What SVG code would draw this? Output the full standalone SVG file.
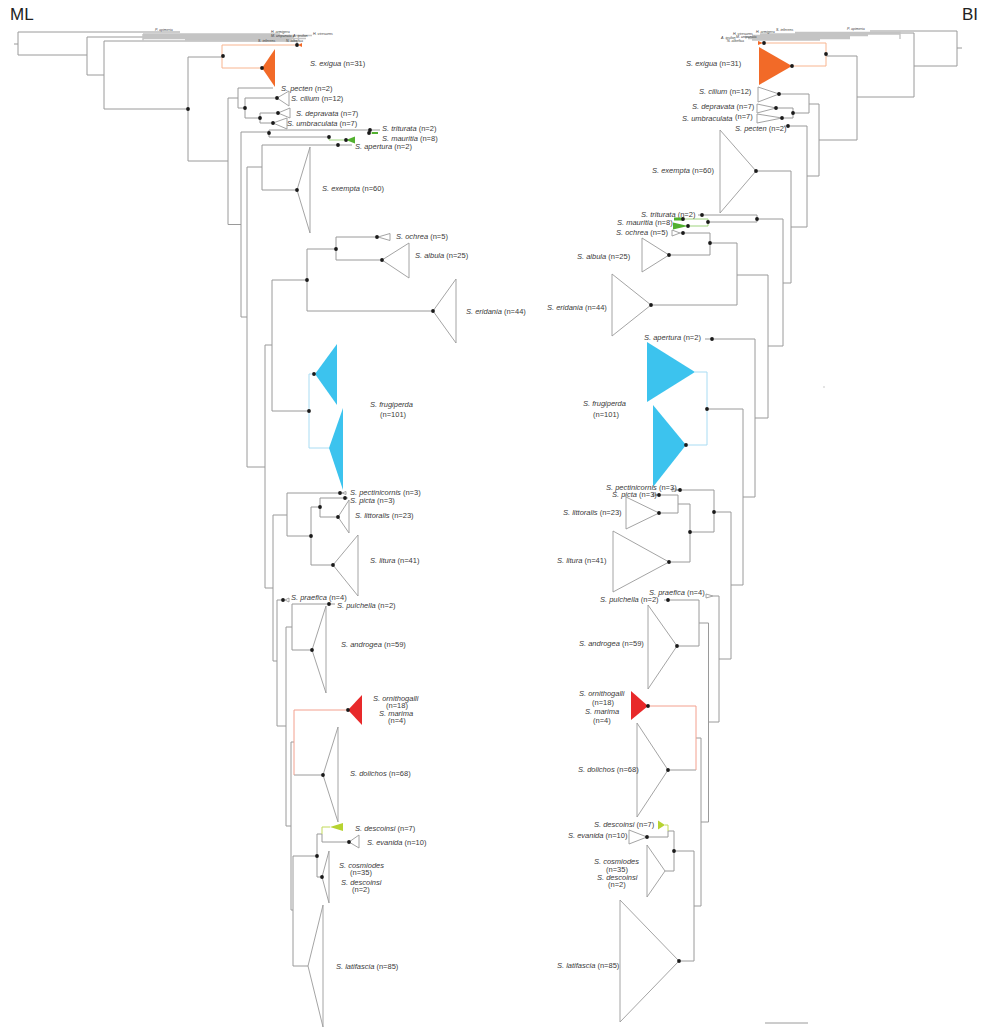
<svg xmlns="http://www.w3.org/2000/svg" width="986" height="1027" viewBox="0 0 986 1027">
<style>
.l{fill:none;stroke:#9a9a9a;stroke-width:1}
.og{fill:none;stroke:#c4c4c4;stroke-width:1.4}
.or{fill:none;stroke:#f8b590;stroke-width:1}
.gr{fill:none;stroke:#9fd47f;stroke-width:1}
.bl{fill:none;stroke:#a9dcf3;stroke-width:1}
.sa{fill:none;stroke:#f3a08e;stroke-width:1}
.yg{fill:none;stroke:#c2da5a;stroke-width:1}
.t{fill:none;stroke:#9a9a9a;stroke-width:0.9}
.fo{fill:#f26a28}
.fb{fill:#3cc3ee}
.fr{fill:#e8292a}
.fg{fill:#52b02f}
.fy{fill:#b6d331}
text{font-family:"Liberation Sans",Arial,sans-serif;font-size:7.5px;fill:#3a3a3a}
.i{font-style:italic}
.tiny{font-size:3.6px;font-style:italic}
.ttl{font-size:17px;fill:#222}
</style>
<rect width="986" height="1027" fill="#fff"/>
<text class="ttl" x="10" y="20">ML</text>
<text class="ttl" x="962" y="20">BI</text>

<g id="connectors">
<path class="l" d="M14 44H18 M18 32V55 M18 32H180 M18 55H87 M87 37V75 M87 37H143 M87 75H104 M104 41V109 M104 41H297V45 M104 109H188 M188 57V161 M188 57H222 M188 161H228 M228 98V224.5 M228 98H238 M228 224.5H241 M238 88V108 M238 88H273 M238 108H245 M245 98V118 M245 98H277 M245 118H260 M260 113V123 M260 113H278 M260 123H273 M241 132V317 M241 132H269 M241 317H247 M269 130V137 M269 130H380 M369 130V133 M269 137H329 M262 145V190 M262 145H352 M262 190H297 M247 167V467 M247 167H262 M247 467H265 M265 345V588 M265 345H272 M265 588H273 M272 280V411 M272 280H307 M272 411H309 M307 249V311 M307 249H336 M307 311H433 M336 237V260 M336 237H377 M336 260H382 M273 515V661 M273 515H287 M273 661H277 M287 493V536 M287 493H342 M287 536H311 M311 507V565 M311 507H320 M311 565H333 M320 498V517 M320 498H348 M320 517H338 M277 600V726 M277 600H285 M277 726H286 M286 627V826 M286 627H292 M286 826H291 M292 604V650 M292 604H335 M292 650H312 M291 742V910 M291 742H294 M291 910H293 M294 775H323 M293 856V966 M293 856H317 M293 966H308 M317 834V877 M317 834H322 M317 877H322 M322 834V842 M322 842H349"/>
<path class="og" d="M143 34V40.5 M143 34H280 M143 35.5H312 M143 37H294 M143 38.5H306 M185 40H292"/>
<path class="or" d="M222 45V68 M222 45H297 M222 68H262"/>
<path class="gr" d="M329 137V140H346 M369 133H378"/>
<path class="bl" d="M309 374V448 M309 374H315 M309 448H329"/>
<path class="sa" d="M294 710V775 M294 710H348"/>
<path class="yg" d="M322 827V834 M322 827H330"/>

<path class="l" d="M957 48H962 M957 31V66 M957 31H870 M957 66H914 M914 33V97 M914 33H900 M914 97H857 M857 56V140 M857 56H826 M857 140H819 M819 104V176 M819 104H809 M819 176H807 M809 94V113 M809 94H779 M809 113H793 M793 108V118 M793 108H776 M793 118H782 M807 126V227 M807 126H784 M807 227H791 M791 171V283 M791 171H756 M791 283H783 M783 219V346 M783 219H757 M783 346H768 M757 215V222 M757 215H698 M757 222H708 M768 275V418 M768 275H737 M768 418H755 M737 243V305 M737 243H710 M737 305H651 M710 233V255 M710 233H680 M710 255H669 M755 339V497 M755 339H705 M755 497H743 M743 409V585 M743 409H707 M743 585H731 M731 512V659 M731 512H714 M731 659H719 M714 490V532 M714 490H680 M714 532H690 M690 504V562 M690 504H678 M690 562H669 M678 495V513 M678 495H657 M678 513H659 M719 596V722 M719 596H713 M719 722H708.5 M708.5 623V822 M708.5 623H699 M708.5 822H701 M699 600V646 M699 600H664 M699 646H677 M701 738V906 M701 738H696 M701 906H694 M696 770H668 M694 851V961 M694 851H674 M694 961H679 M674 831V871 M674 831H668 M674 871H665 M668 831V837 M668 837H647"/>
<path class="og" d="M900 31.5V39 M900 32.5H795 M900 34H760 M868 35.5H752 M850 37H745 M850 38.5H748 M820 40H752"/>
<path class="or" d="M826 43V66 M826 43H763 M826 66H792"/>
<path class="gr" d="M708 219V226 M708 219H683 M708 226H688"/>
<path class="bl" d="M707 372V445 M707 372H695 M707 445H686"/>
<path class="sa" d="M696 706V770 M696 706H648"/>
<path class="yg" d="M668 825V831 M668 825H665"/>
<path class="l" d="M765 1023H808"/>
</g>

<g id="outgroups-ml">
<text class="tiny" x="155" y="30.5">P. apimeria</text>
<text class="tiny" x="271" y="32.5">H. armigera</text>
<text class="tiny" x="313" y="34.5">H. virescens</text>
<text class="tiny" x="271" y="36.5">M. unipuncta</text>
<text class="tiny" x="293" y="36.5">A. ipsilon</text>
<text class="tiny" x="258" y="41.5">S. inferens</text>
<text class="tiny" x="286" y="41.5">N. albefica</text>
</g>
<g id="outgroups-bi">
<text class="tiny" x="847" y="29.5">P. apimeria</text>
<text class="tiny" x="776" y="31">S. inferens</text>
<text class="tiny" x="756" y="33">H. armigera</text>
<text class="tiny" x="733" y="35">H. virescens</text>
<text class="tiny" x="736" y="37.5">M. unipuncta</text>
<text class="tiny" x="721" y="38.5">A. ipsilon</text>
<text class="tiny" x="727" y="42">N. albefica</text>
</g>

<g id="ml-exigua">
<polygon class="fo" points="262,68 275,49 275,87"/>
<polygon class="fo" points="298,45 302,43 302,47"/>
<text x="310" y="66"><tspan class="i">S. exigua</tspan>  (n=31)</text>
</g>
<g id="ml-pecten"><text x="281" y="90.5"><tspan class="i">S. pecten</tspan> (n=2)</text></g>
<g id="ml-cilium"><polygon class="t" points="277,98 289,91 289,106"/><text x="291" y="100.5"><tspan class="i">S. cilium</tspan> (n=12)</text></g>
<g id="ml-depravata"><polygon class="t" points="278,113 290,108 290,118"/><text x="296" y="115.5"><tspan class="i">S. depravata</tspan> (n=7)</text></g>
<g id="ml-umbraculata"><polygon class="t" points="273,123 287,118 287,129"/><text x="287" y="125.5"><tspan class="i">S. umbraculata</tspan> (n=7)</text></g>
<g id="ml-triturata"><text x="382" y="130.5"><tspan class="i">S. triturata</tspan>  (n=2)</text></g>
<g id="ml-mauritia"><polygon class="fg" points="346,140 355,136.5 355,143.5"/><rect class="fg" x="372" y="132" width="6" height="2"/><text x="382" y="140.5"><tspan class="i">S. mauritia</tspan> (n=8)</text></g>
<g id="ml-apertura"><text x="355" y="148.5"><tspan class="i">S. apertura</tspan>  (n=2)</text></g>
<g id="ml-exempta"><polygon class="t" points="297,190 310,147 310,233"/><text x="322" y="190.5"><tspan class="i">S. exempta</tspan> (n=60)</text></g>
<g id="ml-ochrea"><polygon class="t" points="378,237 390,233.5 390,240.5"/><text x="396" y="238.5"><tspan class="i">S. ochrea</tspan>  (n=5)</text></g>
<g id="ml-albula"><polygon class="t" points="382,260 409,243 409,278"/><text x="415" y="257.5"><tspan class="i">S. albula</tspan> (n=25)</text></g>
<g id="ml-eridania"><polygon class="t" points="433,311 456,279 456,343"/><text x="466" y="313.5"><tspan class="i">S. eridania</tspan> (n=44)</text></g>
<g id="ml-frugiperda">
<polygon class="fb" points="315,374 337,344 337,405"/>
<polygon class="fb" points="329,448 343,408 343,490"/>
<text x="370" y="406.5" class="i">S. frugiperda</text>
<text x="380" y="417">(n=101)</text>
</g>
<g id="ml-pectinicornis"><polygon class="t" points="342,493 346,491.5 346,494.5"/><text x="350" y="495"><tspan class="i">S. pectinicornis</tspan> (n=3)</text></g>
<g id="ml-picta"><text x="350" y="502.5"><tspan class="i">S. picta</tspan> (n=3)</text></g>
<g id="ml-littoralis"><polygon class="t" points="338,517 349,500 349,533"/><text x="355" y="517.5"><tspan class="i">S. littoralis</tspan>  (n=23)</text></g>
<g id="ml-litura"><polygon class="t" points="333,565 358,535 358,596"/><text x="370" y="562.5"><tspan class="i">S. litura</tspan>  (n=41)</text></g>
<g id="ml-praefica"><polygon class="t" points="285,600 289,598 289,602"/><text x="291" y="599.5"><tspan class="i">S. praefica</tspan> (n=4)</text></g>
<g id="ml-pulchella"><text x="337" y="607.5"><tspan class="i">S. pulchella</tspan> (n=2)</text></g>
<g id="ml-androgea"><polygon class="t" points="312,650 326,606 326,693"/><text x="341" y="646.5"><tspan class="i">S. androgea</tspan> (n=59)</text></g>
<g id="ml-ornithogalli">
<polygon class="fr" points="348,710 362,695 362,725"/>
<text x="373" y="700.5" class="i">S. ornithogalli</text>
<text x="386" y="707.5">(n=18)</text>
<text x="379" y="716" class="i">S. marima</text>
<text x="388" y="723">(n=4)</text>
</g>
<g id="ml-dolichos"><polygon class="t" points="323,775 338,727 338,822"/><text x="350" y="775.5"><tspan class="i">S. dolichos</tspan>  (n=68)</text></g>
<g id="ml-descoinsi"><polygon class="fy" points="330,827 343,823 343,831"/><text x="355" y="830.5"><tspan class="i">S. descoinsi</tspan>  (n=7)</text></g>
<g id="ml-evanida"><polygon class="t" points="349,842 359,835 359,848"/><text x="367" y="844.5"><tspan class="i">S. evanida</tspan>  (n=10)</text></g>
<g id="ml-cosmiodes">
<polygon class="t" points="322,877 329,851 329,903"/>
<text x="339" y="867.5" class="i">S. cosmiodes</text>
<text x="350" y="875">(n=35)</text>
<text x="341" y="884.5" class="i">S. descoinsi</text>
<text x="352" y="892">(n=2)</text>
</g>
<g id="ml-latifascia"><polygon class="t" points="308,966 323,905 323,1027"/><text x="336" y="968.5"><tspan class="i">S. latifascia</tspan>  (n=85)</text></g>

<g id="bi-exigua">
<polygon class="fo" points="792,66 759,47 759,85"/>
<polygon class="fo" points="763,43 758,41 758,45"/>
<text x="686" y="65.5"><tspan class="i">S. exigua</tspan>  (n=31)</text>
</g>
<g id="bi-cilium"><polygon class="t" points="779,94 758,87 758,102"/><text x="699" y="93.5"><tspan class="i">S. cilium</tspan>  (n=12)</text></g>
<g id="bi-depravata"><polygon class="t" points="776,108 757,104 757,113"/><text x="692" y="108.5"><tspan class="i">S. depravata</tspan> (n=7)</text></g>
<g id="bi-umbraculata"><polygon class="t" points="782,118 757,114 757,123"/><text x="682" y="120.5" class="i">S. umbraculata</text><text x="735" y="118.5">(n=7)</text></g>
<g id="bi-pecten"><text x="735" y="130.5"><tspan class="i">S. pecten</tspan>  (n=2)</text></g>
<g id="bi-exempta"><polygon class="t" points="756,171 720,130 720,213"/><text x="652" y="172.5"><tspan class="i">S. exempta</tspan> (n=60)</text></g>
<g id="bi-triturata"><text x="641" y="216.5"><tspan class="i">S. triturata</tspan> (n=2)</text></g>
<g id="bi-mauritia"><rect class="fg" x="674" y="217.5" width="9" height="3"/><polygon class="fg" points="688,226 673,222.5 673,229.5"/><text x="617" y="224.5"><tspan class="i">S. mauritia</tspan> (n=8)</text></g>
<g id="bi-ochrea"><polygon class="t" points="680,233 672,230 672,236"/><text x="616" y="234.5"><tspan class="i">S. ochrea</tspan> (n=5)</text></g>
<g id="bi-albula"><polygon class="t" points="669,255 642,238 642,272"/><text x="577" y="258.5"><tspan class="i">S. albula</tspan>  (n=25)</text></g>
<g id="bi-eridania"><polygon class="t" points="651,305 612,274 612,336"/><text x="547" y="309.5"><tspan class="i">S. eridania</tspan> (n=44)</text></g>
<g id="bi-apertura"><text x="644" y="339.5"><tspan class="i">S. apertura</tspan>  (n=2)</text></g>
<g id="bi-frugiperda">
<polygon class="fb" points="695,372 647,342 647,402"/>
<polygon class="fb" points="686,445 653,405 653,487"/>
<text x="583" y="405.5" class="i">S. frugiperda</text>
<text x="593" y="416.5">(n=101)</text>
</g>
<g id="bi-pectinicornis"><polygon class="t" points="680,490 672,488.5 672,491.5"/><text x="606" y="490"><tspan class="i">S. pectinicornis</tspan>  (n=3)</text></g>
<g id="bi-picta"><polygon class="t" points="657,495 653,493.5 653,496.5"/><text x="612" y="497"><tspan class="i">S. picta</tspan> (n=3)</text></g>
<g id="bi-littoralis"><polygon class="t" points="659,513 626,497 626,529"/><text x="563" y="514.5"><tspan class="i">S. littoralis</tspan>  (n=23)</text></g>
<g id="bi-litura"><polygon class="t" points="669,562 613,531 613,592"/><text x="557" y="562.5"><tspan class="i">S. litura</tspan>  (n=41)</text></g>
<g id="bi-praefica"><polygon class="t" points="713,596 706,594 706,598"/><text x="649" y="595"><tspan class="i">S. praefica</tspan> (n=4)</text></g>
<g id="bi-pulchella"><text x="600" y="602"><tspan class="i">S. pulchella</tspan> (n=2)</text></g>
<g id="bi-androgea"><polygon class="t" points="677,646 648,605 648,689"/><text x="579" y="645.5"><tspan class="i">S. androgea</tspan> (n=59)</text></g>
<g id="bi-ornithogalli">
<polygon class="fr" points="648,706 631,691 631,720"/>
<text x="579" y="696" class="i">S. ornithogalli</text>
<text x="592" y="704.5">(n=18)</text>
<text x="585" y="714" class="i">S. marima</text>
<text x="593" y="722.5">(n=4)</text>
</g>
<g id="bi-dolichos"><polygon class="t" points="668,770 637,723 637,817"/><text x="578" y="771.5"><tspan class="i">S. dolichos</tspan> (n=68)</text></g>
<g id="bi-descoinsi"><polygon class="fy" points="665,825 658,820.5 658,829.5"/><text x="594" y="826.5"><tspan class="i">S. descoinsi</tspan> (n=7)</text></g>
<g id="bi-evanida"><polygon class="t" points="647,837 629,830 629,844"/><text x="568" y="837.5"><tspan class="i">S. evanida</tspan> (n=10)</text></g>
<g id="bi-cosmiodes">
<polygon class="t" points="665,871 647,845 647,897"/>
<text x="594" y="863.5" class="i">S. cosmiodes</text>
<text x="606" y="871.5">(n=35)</text>
<text x="597" y="879.5" class="i">S. descoinsi</text>
<text x="608" y="886.5">(n=2)</text>
</g>
<g id="bi-latifascia"><polygon class="t" points="679,961 620,900 620,1022"/><text x="557" y="967.5"><tspan class="i">S. latifascia</tspan> (n=85)</text></g>

<g id="nodes" fill="#1a1a1a">
<circle cx="188" cy="109" r="1.9"/><circle cx="223" cy="56" r="1.9"/><circle cx="297" cy="45" r="1.9"/><circle cx="262" cy="68" r="1.9"/>
<circle cx="245" cy="108" r="1.9"/><circle cx="277" cy="98" r="1.9"/><circle cx="260" cy="118" r="1.9"/><circle cx="278" cy="113" r="1.9"/><circle cx="273" cy="123" r="1.9"/>
<circle cx="269" cy="133" r="1.9"/><circle cx="370" cy="130" r="1.9"/><circle cx="369" cy="133" r="1.9"/><circle cx="329" cy="137" r="1.9"/><circle cx="346" cy="140" r="1.9"/><circle cx="338" cy="145" r="1.9"/>
<circle cx="297" cy="190" r="1.9"/><circle cx="377" cy="237" r="1.9"/><circle cx="336" cy="249" r="1.9"/><circle cx="382" cy="260" r="1.9"/><circle cx="307" cy="280" r="1.9"/><circle cx="433" cy="311" r="1.9"/>
<circle cx="314" cy="374" r="1.9"/><circle cx="309" cy="411" r="1.9"/><circle cx="340" cy="493" r="1.9"/><circle cx="345" cy="498" r="1.9"/><circle cx="320" cy="507" r="1.9"/><circle cx="338" cy="517" r="1.9"/>
<circle cx="311" cy="536" r="1.9"/><circle cx="333" cy="565" r="1.9"/><circle cx="283" cy="600" r="1.9"/><circle cx="329" cy="604" r="1.9"/><circle cx="312" cy="650" r="1.9"/><circle cx="348" cy="710" r="1.9"/>
<circle cx="323" cy="775" r="1.9"/><circle cx="349" cy="842" r="1.9"/><circle cx="317" cy="856" r="1.9"/><circle cx="322" cy="877" r="1.9"/>
<circle cx="826" cy="54" r="1.9"/><circle cx="764" cy="43" r="1.9"/><circle cx="792" cy="66" r="1.9"/><circle cx="779" cy="94" r="1.9"/><circle cx="793" cy="113" r="1.9"/><circle cx="776" cy="108" r="1.9"/>
<circle cx="782" cy="118" r="1.9"/><circle cx="788" cy="126" r="1.9"/><circle cx="756" cy="171" r="1.9"/><circle cx="702" cy="215" r="1.9"/><circle cx="757" cy="219" r="1.9"/><circle cx="683" cy="219" r="1.9"/>
<circle cx="688" cy="226" r="1.9"/><circle cx="708" cy="222" r="1.9"/><circle cx="683" cy="233" r="1.9"/><circle cx="710" cy="243" r="1.9"/><circle cx="669" cy="255" r="1.9"/><circle cx="651" cy="305" r="1.9"/>
<circle cx="712" cy="339" r="1.9"/><circle cx="707" cy="409" r="1.9"/><circle cx="686" cy="445" r="1.9"/><circle cx="680" cy="490" r="1.9"/><circle cx="659" cy="495" r="1.9"/><circle cx="714" cy="512" r="1.9"/>
<circle cx="690" cy="532" r="1.9"/><circle cx="659" cy="513" r="1.9"/><circle cx="669" cy="562" r="1.9"/><circle cx="668" cy="600" r="1.9"/><circle cx="677" cy="646" r="1.9"/><circle cx="648" cy="706" r="1.9"/>
<circle cx="668" cy="770" r="1.9"/><circle cx="674" cy="851" r="1.9"/><circle cx="647" cy="837" r="1.9"/><circle cx="679" cy="961" r="1.9"/>
</g>
<rect x="823" y="386" width="2" height="2" fill="#e4e4e4"/>
</svg>
